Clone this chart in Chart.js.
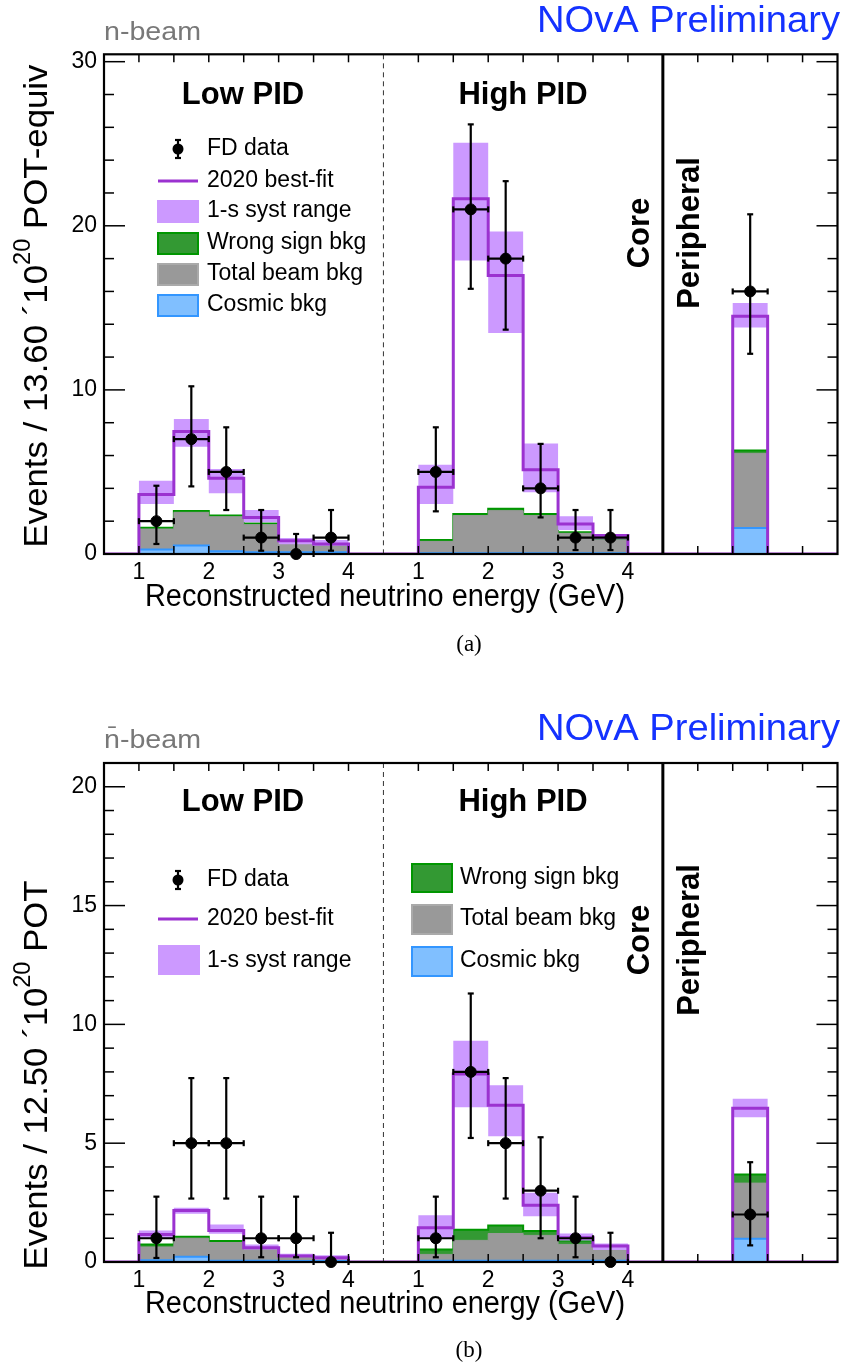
<!DOCTYPE html>
<html><head><meta charset="utf-8">
<script src="https://cdn.jsdelivr.net/npm/chart.js@4.4.0/dist/chart.umd.min.js"></script>
<style>
html,body{margin:0;padding:0;background:#fff;}
#wrap{position:relative;width:844px;height:1364px;overflow:hidden;}
canvas{position:absolute;left:0;}
#cA{top:0;} #cB{top:700px;}
</style></head><body>
<div id="wrap"><canvas id="cA" width="844" height="700"></canvas><canvas id="cB" width="844" height="664"></canvas></div>
<script>
// ---------- DATA (21 bins: Low PID 0-7, High PID 8-15, Peripheral 16-20) ----------
const xTickPos    = [1, 3, 5, 7, 9, 11, 13, 15];
const xTickLabels = ['1', '2', '3', '4', '1', '2', '3', '4'];
const xEdgeTicks  = [1,2,3,4,5,6,7, 9,10,11,12,13,14,15, 17,18,19,20];

// (a) neutrino beam
const fhcYTicks   = [0, 10, 20, 30];
const fhcBestFit  = [0,3.62,7.46,4.61,2.23,0.81,0.61,0,  0,4.06,21.65,16.97,5.14,1.83,1.12,0,  0,0,14.49,0,0];
const fhcSystLow  = [0,3.05,6.54,3.70,1.93,0.60,0.50,0,  0,3.05,17.88,13.47,3.76,1.46,0.90,0,  0,0,13.80,0,0];
const fhcSystHigh = [0,4.47,8.23,5.18,2.68,0.98,0.85,0,  0,5.44,25.06,19.65,6.74,2.30,1.20,0,  0,0,15.30,0,0];
const fhcWrongSign= [0,1.60,2.62,2.34,1.86,0.74,0.54,0,  0,0.86,2.44,2.76,2.44,1.32,0.90,0,  0,0,6.30,0,0];
const fhcBeamBkg  = [0,1.52,2.54,2.27,1.79,0.70,0.50,0,  0,0.77,2.34,2.64,2.34,1.26,0.85,0,  0,0,6.13,0,0];
const fhcCosmic   = [0,0.28,0.52,0.16,0.10,0.10,0.10,0,  0,0.05,0.05,0.05,0.05,0.05,0.05,0,  0,0,1.59,0,0];
const fhcData     = [null,2,7,5,1,0,1,null,  null,5,21,18,4,1,1,null,  null,null,16,null,null];
const fhcDataLow  = [null,0.61,4.12,2.68,0.20,0,0.20,null,  null,2.60,16.16,13.67,2.23,0.24,0.24,null,  null,null,12.2,null,null];
const fhcDataHigh = [null,4.16,10.22,7.72,2.68,1.22,2.68,null,  null,7.72,26.18,22.72,6.71,2.68,2.68,null,  null,null,20.7,null,null];

// (b) antineutrino beam
const rhcYTicks   = [0, 5, 10, 15, 20];
const rhcBestFit  = [0,1.16,2.17,1.33,0.60,0.25,0.18,0,  0,1.44,7.91,6.60,2.39,1.02,0.67,0,  0,0,6.47,0,0];
const rhcSystLow  = [0,1.00,2.03,1.19,0.53,0.21,0.10,0,  0,1.00,6.51,5.29,1.93,0.90,0.50,0,  0,0,6.09,0,0];
const rhcSystHigh = [0,1.33,2.28,1.58,0.74,0.35,0.28,0,  0,1.97,9.31,7.44,2.91,1.20,0.78,0,  0,0,6.87,0,0];
const rhcWrongSign= [0,0.74,1.06,0.88,0.56,0.22,0.11,0,  0,0.53,1.36,1.54,1.30,0.91,0.52,0,  0,0,3.68,0,0];
const rhcBeamBkg  = [0,0.63,1.00,0.82,0.53,0.21,0.10,0,  0,0.32,0.91,1.20,1.12,0.74,0.50,0,  0,0,3.32,0,0];
const rhcCosmic   = [0,0.07,0.22,0.05,0.05,0.04,0.04,0,  0,0.05,0.05,0.05,0.05,0.05,0.05,0,  0,0,0.98,0,0];
const rhcData     = [null,1,5,5,1,1,0,null,  null,1,8,5,3,1,0,null,  null,null,2,null,null];
const rhcDataLow  = [null,0.17,2.67,2.67,0.20,0.20,0,null,  null,0.20,5.22,2.67,1.00,0.20,0,null,  null,null,0.70,null,null];
const rhcDataHigh = [null,2.75,7.74,7.74,2.75,2.75,1.23,null,  null,2.75,11.3,7.74,5.25,2.75,1.23,null,  null,null,4.20,null,null];

// ---------- STYLE ----------
const FONT = '"Liberation Sans", Arial, Helvetica, sans-serif';
const PURPLE = 'rgb(155,50,208)';
const BAND = 'rgb(204,153,255)';
const GREEN_F = 'rgb(51,153,51)', GREEN_B = 'rgb(0,150,0)';
const GRAY_F = 'rgb(153,153,153)';
const COS_F = 'rgb(128,191,255)', COS_B = 'rgb(51,150,255)';
Chart.defaults.font.family = FONT;

function hist(vals){ const p = vals.map((v,i)=>({x:i,y:v})); p.push({x:vals.length,y:vals[vals.length-1]}); return p; }
function pts(vals){ const p=[]; vals.forEach((v,i)=>{ if(v!==null) p.push({x:i+0.5,y:v}); }); return p; }

function fitText(ctx, text, x, y, font, color, align, targetW, rot){
  ctx.save(); ctx.font = font; ctx.fillStyle = color; ctx.textBaseline = 'middle';
  const w = ctx.measureText(text).width; const sx = targetW ? targetW / w : 1;
  ctx.translate(x, y); if (rot) ctx.rotate(rot); ctx.scale(sx, 1);
  ctx.textAlign = align; ctx.fillText(text, 0, 0); ctx.restore();
}
function supTitle(ctx, parts, cx, cy, size, targetLen, rot){
  ctx.save(); ctx.fillStyle = '#000'; ctx.textBaseline = 'middle';
  let total = 0; const ws = parts.map(p=>{ ctx.font = (p.sup? size*0.68 : size)+'px '+FONT; const w = ctx.measureText(p.t).width; total += w; return w; });
  const sx = targetLen ? targetLen/total : 1;
  ctx.translate(cx, cy); if (rot) ctx.rotate(rot); ctx.scale(sx,1);
  let x = -total/2; ctx.textAlign='left';
  parts.forEach((p,i)=>{ ctx.font = (p.sup? size*0.68 : size)+'px '+FONT; ctx.fillText(p.t, x, p.sup ? -size*0.42 : 0); x += ws[i]; });
  ctx.restore();
}
function seg(ctx,x0,y0,x1,y1){ ctx.beginPath(); ctx.moveTo(x0,y0); ctx.lineTo(x1,y1); ctx.stroke(); }

function legendData(ctx,x,y){ ctx.save(); ctx.strokeStyle='#000'; ctx.fillStyle='#000'; ctx.lineWidth=2.2;
  seg(ctx,x,y-9,x,y+9); seg(ctx,x-3,y-9,x+3,y-9); seg(ctx,x-3,y+9,x+3,y+9);
  ctx.beginPath(); ctx.arc(x,y,5.5,0,Math.PI*2); ctx.fill(); ctx.restore(); }
function legendLine(ctx,x0,x1,y){ ctx.save(); ctx.strokeStyle=PURPLE; ctx.lineWidth=3; seg(ctx,x0,y,x1,y); ctx.restore(); }
function legendBox(ctx,x,y,w,h,fill,stroke){ ctx.save(); ctx.fillStyle=fill; ctx.fillRect(x,y,w,h);
  if (stroke){ ctx.strokeStyle=stroke; ctx.lineWidth=2; ctx.strokeRect(x+1,y+1,w-2,h-2);} ctx.restore(); }

function buildChart(id, P){
  const el = document.getElementById(id); const H = el.height;
  const deco = {
    id: 'deco'+id,
    afterDatasetsDraw(chart){
      const ctx = chart.ctx, xs = chart.scales.x, ys = chart.scales.y, a = chart.chartArea;
      ctx.save();
      // error bars
      ctx.strokeStyle = '#000'; ctx.lineWidth = 2.2;
      P.data.forEach((v,i)=>{ if (v===null) return;
        const xc = xs.getPixelForValue(i+0.5), x0 = xs.getPixelForValue(i), x1 = xs.getPixelForValue(i+1);
        const yc = ys.getPixelForValue(v), ylo = ys.getPixelForValue(P.lo[i]), yhi = ys.getPixelForValue(P.hi[i]);
        seg(ctx,x0,yc,x1,yc); seg(ctx,x0,yc-3,x0,yc+3); seg(ctx,x1,yc-3,x1,yc+3);
        seg(ctx,xc,yhi,xc,ylo); seg(ctx,xc-3,yhi,xc+3,yhi); seg(ctx,xc-3,ylo,xc+3,ylo);
      });
      // dividers
      const xd = xs.getPixelForValue(8), xsolid = xs.getPixelForValue(16);
      ctx.lineWidth = 1; ctx.strokeStyle = '#333'; ctx.setLineDash([5,4]); seg(ctx,xd,a.top,xd,a.bottom); ctx.setLineDash([]);
      ctx.lineWidth = 3; ctx.strokeStyle = '#000'; seg(ctx,xsolid,a.top,xsolid,a.bottom);
      // ticks
      ctx.lineWidth = 1.5;
      for (let v = 0; v <= P.yMax + 1e-6; v += P.minor){
        const y = ys.getPixelForValue(v); const major = P.yTicks.some(t=>Math.abs(t-v)<1e-6); const L = major ? 21 : 10;
        seg(ctx,a.left,y,a.left+L,y); seg(ctx,a.right,y,a.right-L,y);
      }
      xEdgeTicks.forEach(u=>{ const x = xs.getPixelForValue(u); seg(ctx,x,a.top,x,a.top+8); seg(ctx,x,a.bottom,x,a.bottom-8); });
      // frame
      ctx.lineWidth = 2.2; ctx.strokeRect(a.left, a.top, a.right-a.left, a.bottom-a.top);
      ctx.restore();
    },
    afterDraw(chart){
      const ctx = chart.ctx; const o = P.oy;
      fitText(ctx,'NOvA Preliminary',840,22+o,'36px '+FONT,'rgb(20,50,255)','right',303);
      fitText(ctx,P.beam,104,33+o,'26px '+FONT,'rgb(120,120,120)','left',97);
      fitText(ctx,'Low PID',243,95+o+P.pidDy,'bold 31px '+FONT,'#000','center');
      fitText(ctx,'High PID',523,95+o+P.pidDy,'bold 31px '+FONT,'#000','center');
      fitText(ctx,'Core',640,P.coreY,'bold 31px '+FONT,'#000','center',null,-Math.PI/2);
      fitText(ctx,'Peripheral',690,P.coreY,'bold 31px '+FONT,'#000','center',null,-Math.PI/2);
      supTitle(ctx,P.yTitle,38,P.yTitleY,34,P.yTitleLen,-Math.PI/2);
      fitText(ctx,'Reconstructed neutrino energy (GeV)',385,P.xTitleY,'31px '+FONT,'#000','center',480);
      fitText(ctx,P.tag,469,P.tagY,'23px "Liberation Serif", "Times New Roman", serif','#000','center');
      P.legend(ctx);
    }
  };
  return new Chart(el, {
    type: 'line',
    data: { datasets: [
      {type:'scatter', label:'FD data', data: pts(P.data), pointRadius:5.5, pointHoverRadius:5.5, pointBackgroundColor:'#000', pointBorderColor:'#000', showLine:false, clip:false, order:0},
      {label:'2020 best-fit', data: hist(P.best), stepped:'before', borderColor:PURPLE, borderWidth:3, pointRadius:0, fill:false, order:1},
      {label:'syst high', data: hist(P.sHi), stepped:'before', borderColor:'rgba(0,0,0,0)', borderWidth:0, pointRadius:0, fill:3, backgroundColor:BAND, order:2},
      {label:'syst low', data: hist(P.sLo), stepped:'before', borderColor:'rgba(0,0,0,0)', borderWidth:0, pointRadius:0, fill:false, order:3},
      {label:'Cosmic bkg', data: hist(P.cos), stepped:'before', borderColor:COS_B, borderWidth:2, pointRadius:0, fill:'origin', backgroundColor:COS_F, order:4},
      {label:'Total beam bkg', data: hist(P.beamBkg), stepped:'before', borderColor:GRAY_F, borderWidth:1, pointRadius:0, fill:'origin', backgroundColor:GRAY_F, order:5},
      {label:'Wrong sign bkg', data: hist(P.ws), stepped:'before', borderColor:GREEN_B, borderWidth:2, pointRadius:0, fill:'origin', backgroundColor:GREEN_F, order:6}
    ]},
    options: {
      responsive:false, animation:false, devicePixelRatio:1, events:[],
      layout:{ padding:{ top:P.top, right:2, left:0, bottom:0 } },
      plugins:{ legend:{display:false}, tooltip:{enabled:false} },
      scales:{
        x:{ type:'linear', min:0, max:21, grid:{display:false, drawTicks:false}, border:{display:false},
            afterBuildTicks(s){ s.ticks = xTickPos.map(v=>({value:v})); },
            afterFit(s){ s.height = H - P.bottom; },
            ticks:{ font:{size:23}, color:'#000', padding:5, maxRotation:0, autoSkip:false,
                    callback:(v,i)=>xTickLabels[i] } },
        y:{ type:'linear', min:0, max:P.yMax, grid:{display:false, drawTicks:false}, border:{display:false},
            afterBuildTicks(s){ s.ticks = P.yTicks.map(v=>({value:v})); },
            afterFit(s){ s.width = 104; },
            ticks:{ font:{size:23}, color:'#000', padding:7, callback:(v)=>String(v) } }
      }
    },
    plugins:[deco]
  });
}

buildChart('cA', {
  data:fhcData, lo:fhcDataLow, hi:fhcDataHigh, best:fhcBestFit, sHi:fhcSystHigh, sLo:fhcSystLow,
  cos:fhcCosmic, beamBkg:fhcBeamBkg, ws:fhcWrongSign, yTicks:fhcYTicks, yMax:30.45, minor:2,
  top:54.3, bottom:554, oy:0, pidDy:0, coreY:233, beam:'n-beam',
  yTitle:[{t:'Events / 13.60 \u00b410'},{t:'20',sup:true},{t:' POT-equiv'}], yTitleY:306, yTitleLen:483,
  xTitleY:597, tag:'(a)', tagY:645,
  legend(ctx){
    legendData(ctx,178,149); fitText(ctx,'FD data',207,149,'23px '+FONT,'#000','left');
    legendLine(ctx,158,198,181); fitText(ctx,'2020 best-fit',207,181,'23px '+FONT,'#000','left');
    legendBox(ctx,157,200,42,23,BAND); fitText(ctx,'1-s syst range',207,211,'23px '+FONT,'#000','left');
    legendBox(ctx,157,232,42,23,GREEN_F,GREEN_B); fitText(ctx,'Wrong sign bkg',207,243,'23px '+FONT,'#000','left');
    legendBox(ctx,157,263,42,23,GRAY_F,'rgb(170,170,170)'); fitText(ctx,'Total beam bkg',207,274,'23px '+FONT,'#000','left');
    legendBox(ctx,157,294,42,23,COS_F,COS_B); fitText(ctx,'Cosmic bkg',207,305,'23px '+FONT,'#000','left');
  }
});
buildChart('cB', {
  data:rhcData, lo:rhcDataLow, hi:rhcDataHigh, best:rhcBestFit, sHi:rhcSystHigh, sLo:rhcSystLow,
  cos:rhcCosmic, beamBkg:rhcBeamBkg, ws:rhcWrongSign, yTicks:rhcYTicks, yMax:21, minor:1,
  top:63, bottom:562, oy:8, pidDy:-1, coreY:240, beam:'n\u0304-beam',
  yTitle:[{t:'Events / 12.50 \u00b410'},{t:'20',sup:true},{t:' POT'}], yTitleY:375, yTitleLen:389,
  xTitleY:604, tag:'(b)', tagY:651,
  legend(ctx){
    legendData(ctx,178,180); fitText(ctx,'FD data',207,180,'23px '+FONT,'#000','left');
    legendLine(ctx,158,198,219); fitText(ctx,'2020 best-fit',207,219,'23px '+FONT,'#000','left');
    legendBox(ctx,158,245,42,30,BAND); fitText(ctx,'1-s syst range',207,261,'23px '+FONT,'#000','left');
    legendBox(ctx,411,163,42,30,GREEN_F,GREEN_B); fitText(ctx,'Wrong sign bkg',460,178,'23px '+FONT,'#000','left');
    legendBox(ctx,411,204,42,31,GRAY_F,'rgb(170,170,170)'); fitText(ctx,'Total beam bkg',460,219,'23px '+FONT,'#000','left');
    legendBox(ctx,411,246,42,31,COS_F,COS_B); fitText(ctx,'Cosmic bkg',460,261,'23px '+FONT,'#000','left');
  }
});
</script>
</body></html>
